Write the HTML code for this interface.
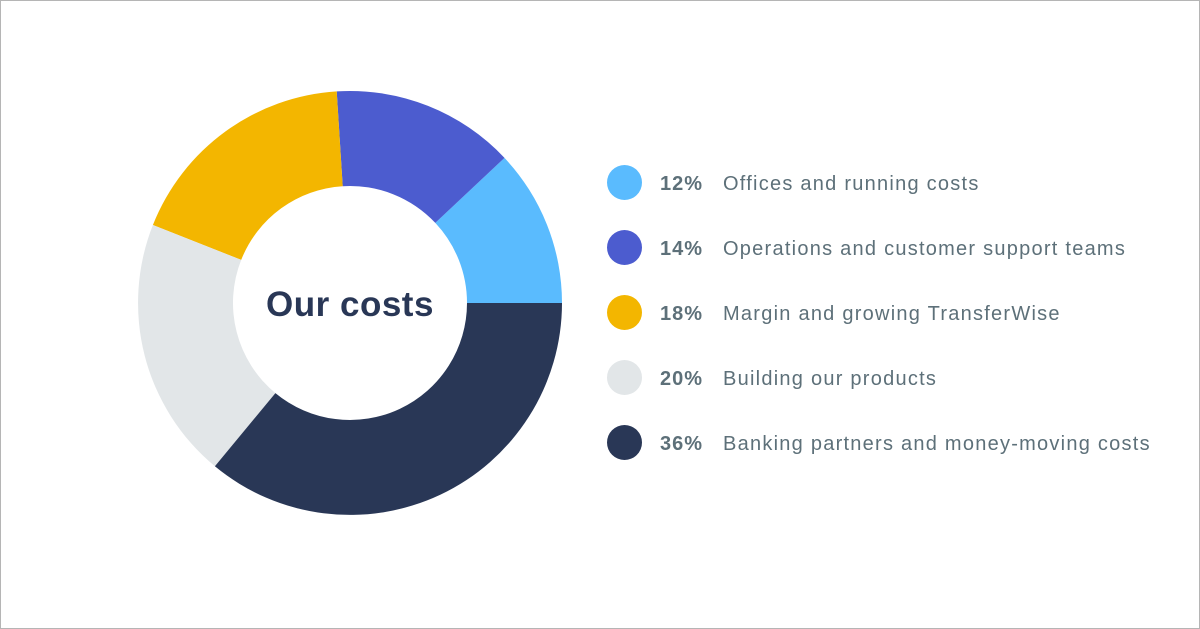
<!DOCTYPE html>
<html><head><style>
html,body{margin:0;padding:0;background:#fff}
.wrap{position:relative;width:1198px;height:627px;border:1px solid #b5b5b5;overflow:hidden;font-family:"Liberation Sans",sans-serif}
.dot{position:absolute;left:606px;width:35px;height:35px;border-radius:50%}
.pct{position:absolute;left:659px;font-weight:bold;font-size:20px;color:#5d7079;line-height:20px;letter-spacing:1px}
.lab{position:absolute;left:722px;font-size:20px;color:#5d7079;line-height:20px;white-space:nowrap;letter-spacing:1.25px}
</style></head><body><div class="wrap">
<svg width="1198" height="627" style="position:absolute;left:-1px;top:-1px">
<path d="M562 303 A212 212 0 0 0 504.5 157.9 L435.3 222.9 A117 117 0 0 1 467 303 Z" fill="#5abbfe"/>
<path d="M504.5 157.9 A212 212 0 0 0 336.7 91.4 L342.7 186.2 A117 117 0 0 1 435.3 222.9 Z" fill="#4c5ccf"/>
<path d="M336.7 91.4 A212 212 0 0 0 152.9 225 L241.2 259.9 A117 117 0 0 1 342.7 186.2 Z" fill="#f3b600"/>
<path d="M152.9 225 A212 212 0 0 0 214.9 466.3 L275.4 393.1 A117 117 0 0 1 241.2 259.9 Z" fill="#e2e6e8"/>
<path d="M214.9 466.3 A212 212 0 0 0 562 303 L467 303 A117 117 0 0 1 275.4 393.1 Z" fill="#293756"/>
<text x="350" y="316" text-anchor="middle" font-family="Liberation Sans, sans-serif" font-size="35" font-weight="bold" fill="#293756" letter-spacing="0.5">Our costs</text>
</svg>
<div class="dot" style="top:164px;background:#5abbfe"></div><div class="pct" style="top:173px">12%</div><div class="lab" style="top:173px">Offices and running costs</div>
<div class="dot" style="top:229px;background:#4c5ccf"></div><div class="pct" style="top:238px">14%</div><div class="lab" style="top:238px">Operations and customer support teams</div>
<div class="dot" style="top:294px;background:#f3b600"></div><div class="pct" style="top:303px">18%</div><div class="lab" style="top:303px">Margin and growing TransferWise</div>
<div class="dot" style="top:359px;background:#e2e6e8"></div><div class="pct" style="top:368px">20%</div><div class="lab" style="top:368px">Building our products</div>
<div class="dot" style="top:424px;background:#293756"></div><div class="pct" style="top:433px">36%</div><div class="lab" style="top:433px">Banking partners and money-moving costs</div>
</div></body></html>
